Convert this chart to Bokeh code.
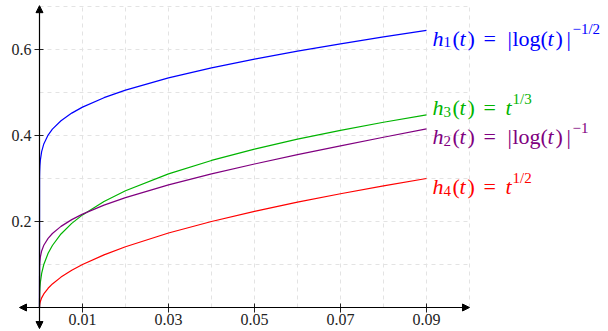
from bokeh.plotting import figure
from bokeh.models import Range1d, LinearAxis, FixedTicker, Arrow, NormalHead
from bokeh.core.properties import value
from bokeh.embed import file_html
from bokeh.resources import INLINE

# ---- data ----
t = [0.0, 0.00002, 0.00005, 0.0001, 0.0002, 0.0005, 0.001, 0.002, 0.003, 0.005, 0.0075, 0.01,
     0.015, 0.02, 0.03, 0.04, 0.05, 0.06, 0.07, 0.08, 0.09]
h1 = [0.0, 0.3040, 0.3178, 0.3295, 0.3427, 0.3627, 0.3805, 0.4011, 0.4149, 0.4344, 0.4521, 0.4660,
      0.4880, 0.5056, 0.5340, 0.5574, 0.5777, 0.5962, 0.6132, 0.6292, 0.6444]
h2 = [0.0, 0.0924, 0.1010, 0.1086, 0.1174, 0.1316, 0.1448, 0.1609, 0.1721, 0.1887, 0.2044, 0.2171,
      0.2381, 0.2556, 0.2852, 0.3107, 0.3338, 0.3555, 0.3760, 0.3959, 0.4153]
h3 = [0.0, 0.0271, 0.0368, 0.0464, 0.0585, 0.0794, 0.1000, 0.1260, 0.1442, 0.1710, 0.1957, 0.2154,
      0.2466, 0.2714, 0.3107, 0.3420, 0.3684, 0.3915, 0.4121, 0.4309, 0.4481]
h4 = [0.0, 0.0045, 0.0071, 0.0100, 0.0141, 0.0224, 0.0316, 0.0447, 0.0548, 0.0707, 0.0866, 0.1000,
      0.1225, 0.1414, 0.1732, 0.2000, 0.2236, 0.2449, 0.2646, 0.2828, 0.3000]

x_ticks = [0.01, 0.03, 0.05, 0.07, 0.09]
y_ticks = [0.2, 0.4, 0.6]
grid_x = [0.01, 0.02, 0.03, 0.04, 0.05, 0.06, 0.07, 0.08, 0.09, 0.10]
grid_y = [0.1, 0.2, 0.3, 0.4, 0.5, 0.6, 0.7]

BLUE, PURPLE, GREEN, RED = "#0000ff", "#800080", "#00b400", "#ff0000"
FONT = "Liberation Serif"

p = figure(width=608, height=331, output_backend="svg", toolbar_location=None,
           x_range=Range1d(-0.00907, 0.13233), y_range=Range1d(-0.0558, 0.7140),
           x_axis_location=None, y_axis_location=None, min_border=0)
p.outline_line_color = None
p.grid.visible = False

# dashed grid
gx_top = max(grid_y)
gy_right = max(grid_x)
p.segment(x0=grid_x, y0=[0.0] * len(grid_x), x1=grid_x, y1=[gx_top] * len(grid_x),
          line_color="#e3e3e3", line_width=1, line_dash="4 4")
p.segment(x0=[0.0] * len(grid_y), y0=grid_y, x1=[gy_right] * len(grid_y), y1=grid_y,
          line_color="#e3e3e3", line_width=1, line_dash="4 4")

# curves
for ys, c in [(h1, BLUE), (h3, GREEN), (h2, PURPLE), (h4, RED)]:
    p.line(t, ys, line_color=c, line_width=1.2)

# axes through origin
xa = LinearAxis(fixed_location=0, ticker=FixedTicker(ticks=x_ticks))
ya = LinearAxis(fixed_location=0, ticker=FixedTicker(ticks=y_ticks))
for ax in (xa, ya):
    ax.axis_line_color = None
    ax.minor_tick_line_color = None
    ax.major_tick_in = 4
    ax.major_tick_out = 5
    ax.major_tick_line_color = "#222222"
    ax.major_label_text_font = FONT
    ax.major_label_text_font_size = "16px"
    ax.major_label_text_color = "#222222"
xa.major_label_standoff = 1
ya.major_label_standoff = 3
p.add_layout(xa, "below")
p.add_layout(ya, "left")

# axis arrows
hd = dict(size=7, fill_color="black", line_color="black")
p.add_layout(Arrow(x_start=-0.00465, y_start=0, x_end=0.1, y_end=0,
                   start=NormalHead(**hd), end=NormalHead(**hd), line_width=1.2))
p.add_layout(Arrow(x_start=0, y_start=-0.049, x_end=0, y_end=0.702,
                   start=NormalHead(**hd), end=NormalHead(**hd), line_width=1.2))

# labels built from text pieces: (text, dx px, italic?, size px, dy px)
def add_label(x, y, color, pieces, dy0=0):
    for s, dx, it, sz, dy in pieces:
        p.text(x=[x], y=[y], text=[s], x_offset=dx, y_offset=dy0 + dy,
               text_font=value(FONT), text_font_style="italic" if it else "normal",
               text_font_size=f"{sz}px", text_color=color,
               text_align="left", text_baseline="alphabetic")

def log_label(sub, sup):
    return [("h", 6, True, 22, 8), (sub, 17, False, 15, 12), ("(", 26, False, 22, 8),
            ("t", 33, True, 22, 8), (")", 41, False, 22, 8), ("=", 57, False, 22, 8),
            ("|", 81, False, 22, 8), ("log", 86, False, 22, 8), ("(", 114, False, 22, 8),
            ("t", 121, True, 22, 8), (")", 129, False, 22, 8), ("|", 140, False, 22, 8),
            (sup, 146, False, 15, -1)]

def pow_label(sub, sup):
    return [("h", 6, True, 22, 8), (sub, 17, False, 15, 12), ("(", 26, False, 22, 8),
            ("t", 33, True, 22, 8), (")", 41, False, 22, 8), ("=", 57, False, 22, 8),
            ("t", 79, True, 22, 8), (sup, 86, False, 15, -1)]

add_label(t[-1], h1[-1], BLUE, log_label("1", "\u22121/2"))
add_label(t[-1], h2[-1], PURPLE, log_label("2", "\u22121"))
add_label(t[-1], h3[-1], GREEN, pow_label("3", "1/3"), dy0=-15)
add_label(t[-1], h4[-1], RED, pow_label("4", "1/2"))

open("out.html", "w").write(file_html(p, INLINE))
